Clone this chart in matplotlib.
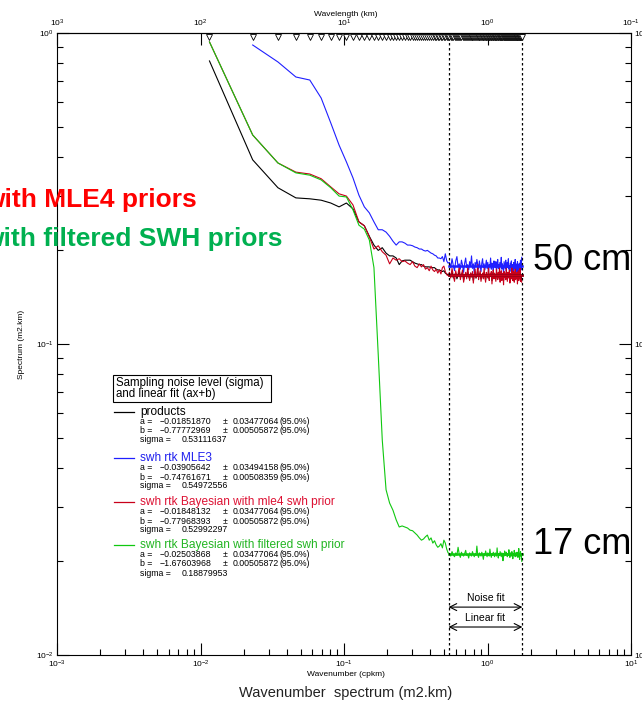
import numpy as np
import matplotlib.pyplot as plt
from matplotlib.ticker import NullLocator
from matplotlib.patches import Rectangle

plt.rcParams['font.family'] = ['Liberation Sans', 'DejaVu Sans']
plt.rcParams['mathtext.fontset'] = 'custom'
plt.rcParams['mathtext.rm'] = 'Liberation Sans'
plt.rcParams['mathtext.it'] = 'Liberation Sans:italic'

# spectral frequency grid (cpkm), step
df = 0.01155
n = np.arange(1, 151)
k = n * df

# spectra (m2.km), n = 1..46
products_low = [0.813, 0.391, 0.318, 0.295, 0.293, 0.290, 0.284, 0.276, 0.284, 0.272,
                0.247, 0.240, 0.222, 0.208, 0.200, 0.204, 0.196, 0.192, 0.192, 0.189,
                0.180, 0.185, 0.186, 0.186, 0.186, 0.184, 0.182, 0.181, 0.180, 0.180,
                0.178, 0.177, 0.177, 0.177, 0.176, 0.176, 0.176, 0.174, 0.173, 0.173,
                0.172, 0.171, 0.172, 0.169, 0.168, 0.167]
mle3_low = [np.nan, 0.915, 0.807, 0.722, 0.706, 0.618, 0.514, 0.436, 0.385, 0.342,
            0.301, 0.276, 0.264, 0.247, 0.233, 0.233, 0.229, 0.222, 0.214, 0.208,
            0.213, 0.213, 0.211, 0.208, 0.208, 0.207, 0.205, 0.204, 0.202, 0.202,
            0.200, 0.199, 0.200, 0.198, 0.196, 0.195, 0.193, 0.192, 0.189, 0.189,
            0.188, 0.191, 0.184, 0.195, 0.185, 0.182]
mle4_low = [0.936, 0.470, 0.382, 0.357, 0.352, 0.340, 0.320, 0.304, 0.299, 0.280,
            0.247, 0.240, 0.221, 0.202, 0.207, 0.198, 0.193, 0.181, 0.189, 0.186,
            0.188, 0.184, 0.185, 0.182, 0.180, 0.184, 0.178, 0.176, 0.181, 0.177,
            0.180, 0.174, 0.176, 0.172, 0.178, 0.173, 0.171, 0.174, 0.169, 0.173,
            0.168, 0.176, 0.178, 0.171, 0.167, 0.166]
filt_low = [0.936, 0.470, 0.382, 0.355, 0.349, 0.337, 0.318, 0.299, 0.297, 0.270,
            0.241, 0.234, 0.216, 0.176, 0.0922, 0.0491, 0.0340, 0.0308, 0.0292, 0.0272,
            0.0258, 0.0260, 0.0258, 0.0256, 0.0252, 0.0251, 0.0247, 0.0243, 0.0238, 0.0234,
            0.0236, 0.0240, 0.0243, 0.0234, 0.0238, 0.0229, 0.0233, 0.0226, 0.0222, 0.0224,
            0.0228, 0.0221, 0.0234, 0.0229, 0.0219, 0.0213]

# noise plateau, n = 47..150
products_noise = [0.168, 0.165, 0.171, 0.163, 0.167, 0.169, 0.162, 0.166, 0.172, 0.164,
                  0.167, 0.170, 0.161, 0.166, 0.168, 0.164, 0.171, 0.165, 0.162, 0.169,
                  0.166, 0.168, 0.160, 0.167, 0.170, 0.163, 0.166, 0.173, 0.164, 0.167,
                  0.169, 0.162, 0.165, 0.168, 0.163, 0.170, 0.166, 0.161, 0.168, 0.165,
                  0.164, 0.171, 0.162, 0.167, 0.166, 0.169, 0.160, 0.167, 0.170, 0.163,
                  0.168, 0.165, 0.162, 0.170, 0.166, 0.163, 0.169, 0.164, 0.171, 0.161,
                  0.167, 0.169, 0.162, 0.165, 0.168, 0.160, 0.169, 0.165, 0.167, 0.163,
                  0.170, 0.166, 0.162, 0.168, 0.164, 0.167, 0.170, 0.161, 0.165, 0.168,
                  0.163, 0.172, 0.166, 0.162, 0.169, 0.166, 0.161, 0.167, 0.170, 0.163,
                  0.167, 0.164, 0.169, 0.160, 0.166, 0.170, 0.162, 0.167, 0.165, 0.171,
                  0.162, 0.166, 0.164, 0.161]
mle3_noise = [0.183, 0.176, 0.188, 0.179, 0.172, 0.185, 0.191, 0.177, 0.181, 0.174,
              0.186, 0.179, 0.170, 0.182, 0.189, 0.176, 0.180, 0.173, 0.184, 0.178,
              0.192, 0.175, 0.181, 0.169, 0.183, 0.177, 0.187, 0.180, 0.174, 0.185,
              0.178, 0.171, 0.182, 0.188, 0.176, 0.181, 0.173, 0.179, 0.186, 0.175,
              0.183, 0.170, 0.180, 0.177, 0.189, 0.174, 0.182, 0.178, 0.172, 0.185,
              0.179, 0.176, 0.184, 0.171, 0.181, 0.187, 0.175, 0.180, 0.173, 0.183,
              0.178, 0.190, 0.174, 0.181, 0.177, 0.169, 0.184, 0.179, 0.175, 0.186,
              0.172, 0.180, 0.183, 0.176, 0.188, 0.174, 0.179, 0.171, 0.182, 0.177,
              0.185, 0.173, 0.180, 0.176, 0.168, 0.183, 0.179, 0.174, 0.187, 0.172,
              0.181, 0.177, 0.170, 0.184, 0.175, 0.180, 0.167, 0.182, 0.176, 0.171,
              0.186, 0.173, 0.178, 0.190]
mle4_noise = [0.170, 0.163, 0.175, 0.166, 0.159, 0.172, 0.164, 0.168, 0.178, 0.161,
              0.167, 0.173, 0.158, 0.165, 0.170, 0.162, 0.176, 0.166, 0.160, 0.169,
              0.164, 0.171, 0.157, 0.168, 0.174, 0.163, 0.166, 0.180, 0.161, 0.167,
              0.172, 0.159, 0.165, 0.169, 0.162, 0.175, 0.164, 0.158, 0.170, 0.166,
              0.163, 0.177, 0.160, 0.168, 0.165, 0.171, 0.156, 0.167, 0.173, 0.162,
              0.169, 0.164, 0.159, 0.174, 0.166, 0.161, 0.170, 0.163, 0.176, 0.158,
              0.167, 0.172, 0.160, 0.165, 0.169, 0.155, 0.171, 0.164, 0.168, 0.161,
              0.175, 0.166, 0.159, 0.170, 0.163, 0.167, 0.173, 0.157, 0.164, 0.169,
              0.162, 0.178, 0.165, 0.160, 0.171, 0.166, 0.158, 0.168, 0.174, 0.161,
              0.167, 0.163, 0.170, 0.156, 0.165, 0.172, 0.160, 0.168, 0.164, 0.175,
              0.159, 0.166, 0.162, 0.158]
filt_noise = [0.0212, 0.0208, 0.0215, 0.0210, 0.0207, 0.0213, 0.0209, 0.0222, 0.0211, 0.0206,
              0.0214, 0.0210, 0.0208, 0.0212, 0.0217, 0.0209, 0.0211, 0.0205, 0.0213, 0.0210,
              0.0208, 0.0215, 0.0211, 0.0207, 0.0212, 0.0209, 0.0224, 0.0210, 0.0206, 0.0213,
              0.0211, 0.0208, 0.0214, 0.0210, 0.0203, 0.0212, 0.0209, 0.0216, 0.0211, 0.0207,
              0.0213, 0.0210, 0.0208, 0.0219, 0.0211, 0.0206, 0.0212, 0.0209, 0.0214, 0.0210,
              0.0207, 0.0213, 0.0211, 0.0208, 0.0221, 0.0210, 0.0205, 0.0212, 0.0209, 0.0215,
              0.0211, 0.0207, 0.0213, 0.0210, 0.0201, 0.0212, 0.0208, 0.0216, 0.0210, 0.0209,
              0.0214, 0.0211, 0.0207, 0.0212, 0.0209, 0.0218, 0.0210, 0.0206, 0.0213, 0.0211,
              0.0208, 0.0215, 0.0210, 0.0204, 0.0212, 0.0209, 0.0217, 0.0211, 0.0207, 0.0213,
              0.0210, 0.0208, 0.0214, 0.0211, 0.0206, 0.0212, 0.0220, 0.0209, 0.0203, 0.0211,
              0.0215, 0.0208, 0.0212, 0.0200]

names = ['products', 'swh rtk MLE3', 'swh rtk Bayesian with mle4 swh prior',
         'swh rtk Bayesian with filtered swh prior']
series = [products_low + products_noise, mle3_low + mle3_noise,
          mle4_low + mle4_noise, filt_low + filt_noise]
fit_a = ['\u22120.01851870', '\u22120.03905642', '\u22120.01848132', '\u22120.02503868']
fit_a_err = ['0.03477064', '0.03494158', '0.03477064', '0.03477064']
fit_b = [-0.77772969, -0.74761671, -0.77968393, -1.67603968]
fit_b_err = ['0.00505872', '0.00508359', '0.00505872', '0.00505872']
sigma = ['0.53111637', '0.54972556', '0.52992297', '0.18879953']
colors = ['black', '#1f1fff', '#c8001a', '#10c810']
text_colors = ['black', '#2020ee', '#dd1133', '#22b522']

noise_lo, noise_hi = 0.535, 1.75

fig = plt.figure(figsize=(6.42, 7.06), dpi=100)
ax = fig.add_axes([57/642, 51/706, 574/642, 622/706])
ax.set_xscale('log')
ax.set_yscale('log')
ax.set_xlim(1e-3, 1e1)
ax.set_ylim(1e-2, 1)

for s, c in zip(series, colors):
    ax.plot(k, s, color=c, lw=0.8)
for b, c in zip(fit_b, colors):
    ax.plot([noise_lo, noise_hi], [10**b, 10**b], color=c, lw=1.8)

for xv in (noise_lo, noise_hi):
    ax.axvline(xv, color='black', lw=0.9, ls=(0, (2, 2)))

# sample positions along the top axis
ax.plot(k, np.full(len(k), 0.9935), transform=ax.get_xaxis_transform(),
        ls='none', marker='v', ms=5, mfc='white', mec='black', mew=0.6,
        clip_on=False, zorder=5)

arrow = dict(arrowstyle='<->,head_length=0.5,head_width=0.25', lw=0.8, color='black',
             shrinkA=0, shrinkB=0)
ax.annotate('', xy=(noise_lo, 0.077), xytext=(noise_hi, 0.077),
            xycoords=('data', 'axes fraction'), textcoords=('data', 'axes fraction'),
            arrowprops=arrow)
ax.annotate('', xy=(noise_lo, 0.045), xytext=(noise_hi, 0.045),
            xycoords=('data', 'axes fraction'), textcoords=('data', 'axes fraction'),
            arrowprops=arrow)
xm = np.sqrt(noise_lo * noise_hi)
ax.text(xm, 0.091, 'Noise fit', transform=ax.get_xaxis_transform(),
        ha='center', va='center', fontsize=7.5)
ax.text(xm, 0.060, 'Linear fit', transform=ax.get_xaxis_transform(),
        ha='center', va='center', fontsize=7.5)

ax.tick_params(which='major', direction='in', length=8.5, width=0.8, labelsize=6,
               top=False, right=True, labelright=True, pad=2.5)
ax.tick_params(which='minor', direction='in', length=4.5, width=0.8,
               top=False, right=True)

sec = ax.secondary_xaxis('top', functions=(lambda x: 1 / np.maximum(x, 1e-12),
                                           lambda x: 1 / np.maximum(x, 1e-12)))
sec.xaxis.set_minor_locator(NullLocator())
sec.tick_params(which='major', direction='in', length=8.5, width=0.8, labelsize=6, pad=3)

fig.text(346/642, 1 - 15/706, 'Wavelength (km)', ha='center', va='center', fontsize=6)
fig.text(346/642, 1 - 675/706, 'Wavenumber (cpkm)', ha='center', va='center', fontsize=6)
fig.text(22/642, 1 - 344/706, 'Spectrum (m2.km)', ha='center', va='center',
         fontsize=6, rotation=90)
fig.text(346/642, 1 - 693/706, 'Wavenumber  spectrum (m2.km)', ha='center', va='center',
         fontsize=10.5, color='#222222')

# legend block
def fx(x):
    return x / 642

def fy(y):
    return 1 - y / 706

fig.patches.append(Rectangle((fx(113), fy(402)), (271 - 113) / 642, 27 / 706,
                             transform=fig.transFigure, fill=False, ec='black', lw=0.8))
fig.text(fx(116), fy(382.5), 'Sampling noise level (sigma)', va='center', fontsize=8.3)
fig.text(fx(116), fy(394.5), 'and linear fit (ax+b)', va='center', fontsize=8.3)

name_y = [412, 458, 502, 545]
for i in range(4):
    y0 = name_y[i]
    fig.lines.append(plt.Line2D([fx(114), fx(134)], [fy(y0), fy(y0)], color=colors[i],
                                lw=0.9, transform=fig.transFigure))
    fig.text(fx(140), fy(y0), names[i], va='center', fontsize=8.6, color=text_colors[i])
    rows = [('a =', fit_a[i], fit_a_err[i], 9.5),
            ('b =', '\u2212%.8f' % abs(fit_b[i]), fit_b_err[i], 19)]
    for lab, val, err, dy in rows:
        fig.text(fx(140), fy(y0 + dy), lab, va='center', fontsize=6.3)
        fig.text(fx(160), fy(y0 + dy), val, va='center', fontsize=6.3)
        fig.text(fx(223), fy(y0 + dy), '\u00b1', va='center', fontsize=6.3)
        fig.text(fx(233), fy(y0 + dy), err, va='center', fontsize=6.3)
        fig.text(fx(279), fy(y0 + dy), '(95.0%)', va='center', fontsize=6.3)
    fig.text(fx(140), fy(y0 + 28), 'sigma =', va='center', fontsize=6.3)
    fig.text(fx(182), fy(y0 + 28), sigma[i], va='center', fontsize=6.3)

# overlay annotations
fig.text(fx(197), fy(207), 'with MLE4 priors', ha='right', va='baseline',
         fontsize=19, fontweight='bold', color='#ff0000')
fig.text(fx(283), fy(246), 'with filtered SWH priors', ha='right', va='baseline',
         fontsize=19, fontweight='bold', color='#00b050')
fig.text(fx(533), fy(260), '50 cm', ha='left', va='center', fontsize=26)
fig.text(fx(533), fy(545), '17 cm', ha='left', va='center', fontsize=26)

fig.savefig('out.png', dpi=100)
